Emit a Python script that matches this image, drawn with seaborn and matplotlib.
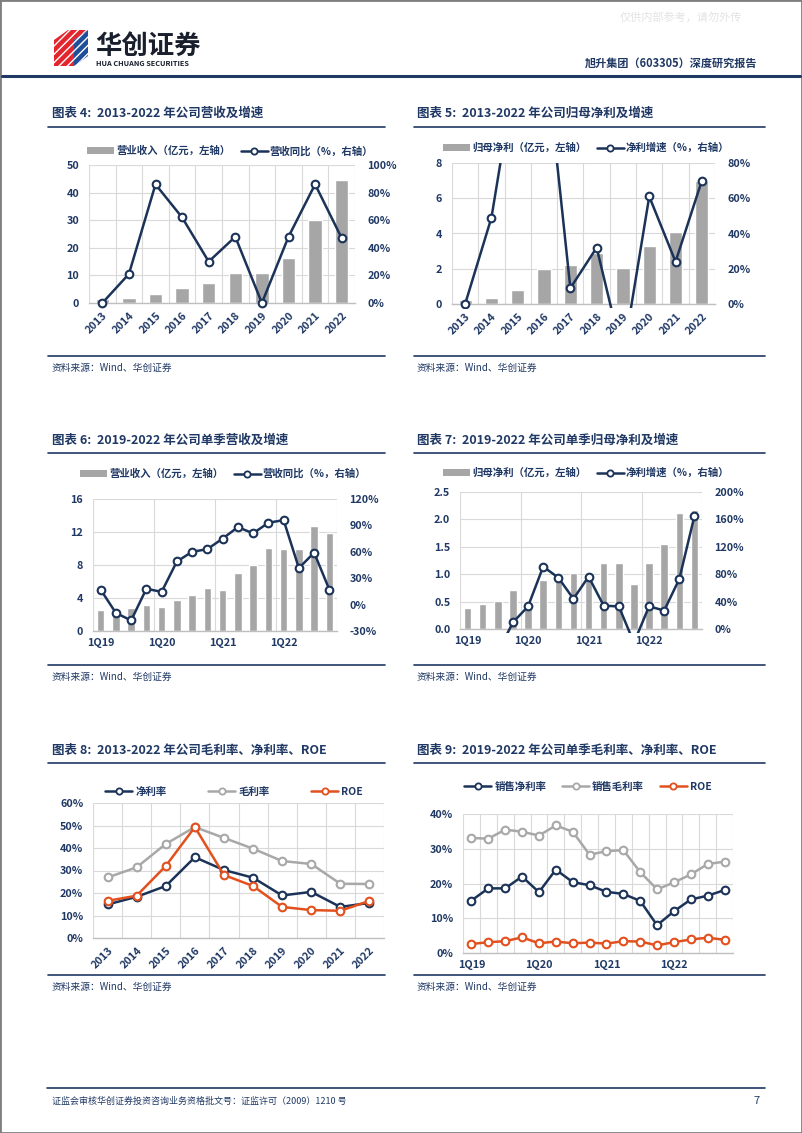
import numpy as np
import matplotlib
matplotlib.use('Agg')
import matplotlib.pyplot as plt
import seaborn as sns
from matplotlib.lines import Line2D
from matplotlib.patches import Patch, Rectangle, Polygon

# ---------------- data ----------------
years = ['2013', '2014', '2015', '2016', '2017', '2018', '2019', '2020', '2021', '2022']
revenue = [1.3, 1.8, 3.3, 5.5, 7.2, 10.9, 11.0, 16.2, 30.2, 44.5]
revenue_yoy = [0, 21, 86, 62, 30, 48, 0, 48, 86, 47]
net_profit = [0.22, 0.32, 0.78, 2.0, 2.2, 2.9, 2.05, 3.3, 4.1, 7.0]
net_profit_yoy = [0, 49, 140, 150, 9, 32, -30, 61, 24, 70]

quarters = ['1Q19', '2Q19', '3Q19', '4Q19', '1Q20', '2Q20', '3Q20', '4Q20',
            '1Q21', '2Q21', '3Q21', '4Q21', '1Q22', '2Q22', '3Q22', '4Q22']
q_revenue = [2.5, 2.6, 2.8, 3.2, 2.9, 3.8, 4.4, 5.2, 5.0, 7.0, 8.0, 10.1, 9.9, 10.0, 12.7, 11.9]
q_revenue_yoy = [17, -9.5, -18, 18, 14.5, 49, 60, 63, 75, 88, 81, 93, 96, 41.5, 59, 17]
q_net_profit = [0.38, 0.46, 0.51, 0.71, 0.50, 0.90, 0.92, 1.02, 1.00, 1.21, 1.21, 0.82, 1.20, 1.55, 2.11, 2.17]
q_net_profit_yoy = [-25, -20, -34, 9.7, 33, 91, 75, 44, 76.5, 34, 33, -20, 33, 27, 73, 165]

net_margin = [14.9, 18.3, 23.1, 35.9, 30.2, 26.8, 18.9, 20.5, 13.8, 15.6]
gross_margin = [26.9, 31.4, 41.8, 49.3, 44.5, 39.7, 34.2, 32.9, 24.1, 24.0]
roe = [16.5, 18.8, 32.0, 49.3, 28.0, 23.1, 13.8, 12.4, 12.1, 16.5]

q_net_margin = [15.1, 18.6, 18.6, 22.0, 17.5, 24.0, 20.4, 19.5, 17.6, 17.0, 15.0, 8.0, 12.0, 15.4, 16.5, 18.1]
q_gross_margin = [33.1, 32.9, 35.5, 34.9, 33.8, 36.7, 34.9, 28.3, 29.3, 29.6, 23.3, 18.3, 20.3, 22.6, 25.6, 26.3]
q_roe = [2.6, 3.1, 3.4, 4.5, 2.8, 3.3, 2.8, 3.0, 2.7, 3.4, 3.3, 2.2, 3.1, 3.9, 4.4, 3.8]

titles = ['图表 4:  2013-2022 年公司营收及增速',
          '图表 5:  2013-2022 年公司归母净利及增速',
          '图表 6:  2019-2022 年公司单季营收及增速',
          '图表 7:  2019-2022 年公司单季归母净利及增速',
          '图表 8:  2013-2022 年公司毛利率、净利率、ROE',
          '图表 9:  2019-2022 年公司单季毛利率、净利率、ROE']
source_text = '资料来源：Wind、华创证券'

# ---------------- style ----------------
W, H = 802, 1133
NAVY = '#1B3358'
TXT = '#1F3864'
GRAY_BAR = '#A6A6A6'
GRAY_LINE = '#A8A8A8'
ORANGE = '#E2501E'
GRID = '#D9D9D9'
TICKFS = 7.8
LEGFS = 7.5

sns.set_theme(style='white')
plt.rcParams['font.family'] = ['Noto Sans CJK SC', 'DejaVu Sans']
plt.rcParams['axes.unicode_minus'] = False

fig = plt.figure(figsize=(W / 100, H / 100), dpi=100)


def rect(x0, y0, x1, y1):
    return [x0 / W, 1 - y1 / H, (x1 - x0) / W, (y1 - y0) / H]


def fxy(x, y):
    return x / W, 1 - y / H


def hline(x0, x1, y, color=TXT, lw=1.2):
    fig.add_artist(Line2D([x0 / W, x1 / W], [1 - y / H, 1 - y / H], transform=fig.transFigure,
                          color=color, lw=lw))


def style_axis(ax, n, ylim, yticks, every=1):
    ax.set_xlim(-0.5, n - 0.5)
    ax.set_ylim(*ylim)
    ax.set_yticks(yticks)
    ax.set_xticks(np.arange(-0.5, n, every), minor=True)
    ax.grid(True, axis='y', which='major', color=GRID, lw=0.8)
    ax.grid(True, axis='x', which='minor', color=GRID, lw=0.8)
    ax.grid(False, axis='x', which='major')
    ax.set_axisbelow(True)
    for s in ['top', 'left', 'right']:
        ax.spines[s].set_visible(False)
    ax.spines['bottom'].set_color('#BFBFBF')
    ax.spines['bottom'].set_linewidth(1.0)
    ax.tick_params(which='both', length=0, labelsize=TICKFS, labelcolor=TXT)
    ax.tick_params(axis='y', pad=7)
    ax.tick_params(axis='x', pad=5)
    for lab in ax.get_yticklabels():
        lab.set_fontweight('bold')
    ax.set_xlabel('')
    ax.set_ylabel('')


def style_twin(ax2, ylim, yticks):
    ax2.set_ylim(*ylim)
    ax2.set_yticks(yticks)
    ax2.set_yticklabels([f'{int(t)}%' for t in yticks])
    ax2.grid(False)
    for s in ['top', 'left', 'right', 'bottom']:
        ax2.spines[s].set_visible(False)
    ax2.tick_params(which='both', length=0, labelsize=TICKFS, labelcolor=TXT, pad=9)
    for lab in ax2.get_yticklabels():
        lab.set_fontweight('bold')
    ax2.set_ylabel('')
    ax2.set_xlabel('')


def set_xlabels(ax, labels, positions, rotate):
    ax.set_xticks(positions)
    if rotate:
        ax.set_xticklabels(labels, rotation=45, ha='right', rotation_mode='anchor',
                           fontweight='bold', fontsize=TICKFS, color=TXT)
    else:
        ax.set_xticklabels(labels, fontweight='bold', fontsize=TICKFS, color=TXT)


def line_handle(color):
    return Line2D([], [], color=color, lw=1.8, marker='o', markerfacecolor='white',
                  markeredgecolor=color, markersize=4.5, markeredgewidth=1.3)


def bar_line_chart(box, cats, bars, line, ylim, yticks, y2lim, y2ticks, every, xlab_pos,
                   xlab, rotate, leg_labels, leg_center, clip):
    ax = fig.add_axes(rect(*box))
    n = len(cats)
    sns.barplot(x=cats, y=bars, color=GRAY_BAR, saturation=1, width=0.5, ax=ax, zorder=2)
    ax2 = ax.twinx()
    sns.lineplot(x=np.arange(n), y=line, ax=ax2, color=NAVY, lw=1.8, marker='o',
                 markerfacecolor='white', markeredgecolor=NAVY, markersize=5.5,
                 markeredgewidth=1.5)
    style_axis(ax, n, ylim, yticks, every)
    ax2.set_xlim(-0.5, n - 0.5)
    style_twin(ax2, y2lim, y2ticks)
    set_xlabels(ax, xlab, xlab_pos, rotate)
    for ln in ax2.lines:
        if clip:
            ln.set_clip_path(Rectangle((-0.1, -0.03), 1.2, 1.03, transform=ax2.transAxes))
        else:
            ln.set_clip_on(False)
    handles = [Patch(facecolor=GRAY_BAR, edgecolor='none'), line_handle(NAVY)]
    ax.legend(handles, leg_labels, loc='center', bbox_to_anchor=fxy(*leg_center),
              bbox_transform=fig.transFigure, ncol=2, frameon=False,
              handlelength=2.6, handleheight=0.55, handletextpad=0.2, columnspacing=1.0,
              labelcolor=TXT, prop={'weight': 'bold', 'size': LEGFS})
    return ax, ax2


def lines_chart(box, cats, series, colors, ylim, yticks, xlab_pos, xlab, rotate,
                leg_labels, leg_center, colspace):
    ax = fig.add_axes(rect(*box))
    n = len(cats)
    for vals, c in zip(series, colors):
        sns.lineplot(x=np.arange(n), y=vals, ax=ax, color=c, lw=1.8, marker='o',
                     markerfacecolor='white', markeredgecolor=c, markersize=5.5,
                     markeredgewidth=1.5)
    style_axis(ax, n, ylim, yticks, 1)
    ax.set_yticklabels([f'{int(t)}%' for t in yticks], fontweight='bold')
    set_xlabels(ax, xlab, xlab_pos, rotate)
    for ln in ax.lines:
        ln.set_clip_on(False)
    handles = [line_handle(c) for c in colors]
    ax.legend(handles, leg_labels, loc='center', bbox_to_anchor=fxy(*leg_center),
              bbox_transform=fig.transFigure, ncol=3, frameon=False,
              handlelength=2.6, handletextpad=0.3, columnspacing=colspace,
              labelcolor=TXT, prop={'weight': 'bold', 'size': LEGFS})
    return ax


# chart 4
bar_line_chart((89, 165, 355, 303), years, revenue, revenue_yoy, (0, 50), [0, 10, 20, 30, 40, 50],
               (0, 100), [0, 20, 40, 60, 80, 100], 1, np.arange(10), years, True,
               ['营业收入（亿元，左轴）', '营收同比（%，右轴）'], (230, 151), False)
# chart 5
bar_line_chart((452, 163, 715, 304), years, net_profit, net_profit_yoy, (0, 8), [0, 2, 4, 6, 8],
               (0, 80), [0, 20, 40, 60, 80], 1, np.arange(10), years, True,
               ['归母净利（亿元，左轴）', '净利增速（%，右轴）'], (586, 148), True)
# chart 6
ax6, _ = bar_line_chart((93, 499, 337, 631), quarters, q_revenue, q_revenue_yoy, (0, 16), [0, 4, 8, 12, 16],
                        (-30, 120), [-30, 0, 30, 60, 90, 120], 4, [0, 4, 8, 12],
                        [quarters[i] for i in [0, 4, 8, 12]], False,
                        ['营业收入（亿元，左轴）', '营收同比（%，右轴）'], (223, 474), False)
# chart 7
ax7, _ = bar_line_chart((460, 492, 702, 629), quarters, q_net_profit, q_net_profit_yoy, (0, 2.5),
                        [0, 0.5, 1.0, 1.5, 2.0, 2.5], (0, 200), [0, 40, 80, 120, 160, 200], 4,
                        [0, 4, 8, 12], [quarters[i] for i in [0, 4, 8, 12]], False,
                        ['归母净利（亿元，左轴）', '净利增速（%，右轴）'], (586, 473), True)
ax7.set_yticklabels([f'{t:.1f}' for t in [0, 0.5, 1.0, 1.5, 2.0, 2.5]], fontweight='bold')
# chart 8
lines_chart((93, 803, 384, 938), years, [net_margin, gross_margin, roe], [NAVY, GRAY_LINE, ORANGE],
            (0, 60), [0, 10, 20, 30, 40, 50, 60], np.arange(10), years, True,
            ['净利率', '毛利率', 'ROE'], (234, 792), 4.0)
# chart 9
lines_chart((463, 814, 733, 953), quarters, [q_net_margin, q_gross_margin, q_roe],
            [NAVY, GRAY_LINE, ORANGE], (0, 40), [0, 10, 20, 30, 40], [0, 4, 8, 12],
            [quarters[i] for i in [0, 4, 8, 12]], False,
            ['销售净利率', '销售毛利率', 'ROE'], (588, 787), 1.5)

# ---------------- page decorations ----------------
title_pos = [(52, 113), (417, 113), (52, 440), (417, 440), (52, 750), (417, 750)]
for t, (x, y) in zip(titles, title_pos):
    fig.text(*fxy(x, y), t, fontsize=9, fontweight='bold', color=TXT, va='center', ha='left')
for ytl, ysl in [(127, 356), (453, 665), (763, 975)]:
    hline(48, 385, ytl)
    hline(414, 765, ytl)
    hline(48, 385, ysl)
    hline(414, 765, ysl)
for x, y in [(52, 368), (417, 368), (52, 677), (417, 677), (52, 987), (417, 987)]:
    fig.text(*fxy(x, y), source_text, fontsize=7, color=TXT, style='italic', va='center', ha='left')

# header
hline(2, 800, 76, color=TXT, lw=2.2)
fig.text(*fxy(742, 17), '仅供内部参考，请勿外传', fontsize=8, color='#E3E3E3', ha='right', va='center')
fig.text(*fxy(757, 63), '旭升集团（603305）深度研究报告', fontsize=8, color=TXT, fontweight='bold',
         ha='right', va='center')
fig.text(*fxy(95, 46), '华创证券', fontsize=19, color='#1A1F2E', fontweight='bold', ha='left', va='center')
fig.text(*fxy(96, 63), 'HUA CHUANG SECURITIES', fontsize=5.3, color='#1A1F2E', fontweight='bold',
         ha='left', va='center')
# logo
red_poly = Polygon([fxy(54, 40), fxy(68, 30), fxy(88, 30), fxy(74, 40), fxy(74, 66), fxy(54, 66)],
                   closed=True, transform=fig.transFigure, facecolor='#E3262E', edgecolor='white',
                   hatch='////', lw=0)
blue_poly = Polygon([fxy(74, 40), fxy(88, 30), fxy(88, 56), fxy(74, 66)], closed=True,
                    transform=fig.transFigure, facecolor='#1F4E9A', edgecolor='white', hatch='////', lw=0)
fig.add_artist(red_poly)
fig.add_artist(blue_poly)

# footer
hline(47, 765, 1088, color=TXT, lw=1.2)
fig.text(*fxy(52, 1101), '证监会审核华创证券投资咨询业务资格批文号：证监许可（2009）1210 号', fontsize=6.5,
         color=TXT, ha='left', va='center')
fig.text(*fxy(757, 1101), '7', fontsize=8, color=TXT, ha='center', va='center')

# page border
fig.add_artist(Rectangle((0, 0), 1, 1, transform=fig.transFigure, fill=False, edgecolor='#7F7F7F', lw=2))

fig.savefig('out.png', dpi=100)
